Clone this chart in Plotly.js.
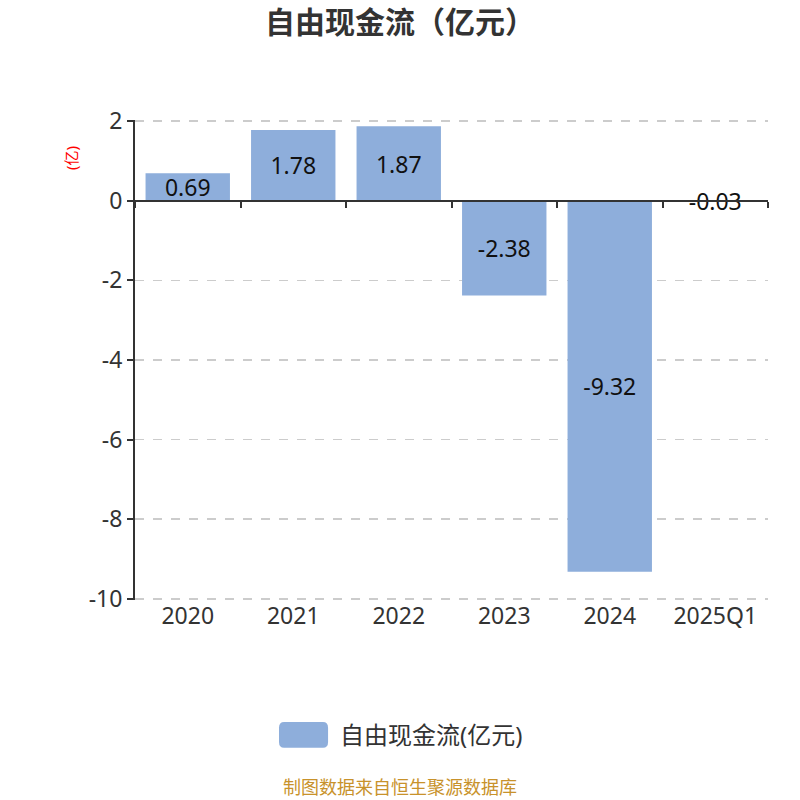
<!DOCTYPE html>
<html>
<head>
<meta charset="utf-8">
<script src="https://cdn.plot.ly/plotly-3.0.1.min.js"></script>
<style>
  html, body { margin: 0; padding: 0; background: #fff; }
  #chart { width: 800px; height: 800px; }
</style>
</head>
<body>
<div id="chart"></div>
<script>
const years = ['2020', '2021', '2022', '2023', '2024', '2025Q1'];
const fcf = [0.69, 1.78, 1.87, -2.38, -9.32, -0.03];
const fcfLabels = ['0.69', '1.78', '1.87', '-2.38', '-9.32', '-0.03'];
const yTicks = [-10, -8, -6, -4, -2, 0, 2];
const seriesName = '自由现金流(亿元)';

const FONT = 'Noto Sans, "Noto Sans CJK SC", sans-serif';
const yMin = -10.03, yMax = 2.03;

const bars = {
    x: years,
    y: fcf,
    type: 'bar',
    name: seriesName,
    marker: { color: '#8eaedb' },
    width: 0.8,
    text: fcfLabels,
    textposition: 'inside',
    insidetextanchor: 'middle',
    constraintext: 'none',
    textfont: { size: 23, color: '#111', family: FONT },
    showlegend: false,
    hoverinfo: 'x+y'
}

// invisible copy that only carries the zero axis with the boundary ticks
const zeroAxis = {
    x: years,
    y: years.map(() => 0),
    type: 'bar',
    xaxis: 'x2',
    marker: { color: 'rgba(0,0,0,0)' },
    showlegend: false,
    hoverinfo: 'skip'
}

// legend swatch: rounded rectangle in paper coords
const sw = { x0: 0.2275, x1: 0.305, y0: -0.308, y1: -0.254, r: 0.008, ry: 0.012 };
const swatchPath =
    `M ${sw.x0 + sw.r},${sw.y1} L ${sw.x1 - sw.r},${sw.y1} Q ${sw.x1},${sw.y1} ${sw.x1},${sw.y1 - sw.ry} ` +
    `L ${sw.x1},${sw.y0 + sw.ry} Q ${sw.x1},${sw.y0} ${sw.x1 - sw.r},${sw.y0} ` +
    `L ${sw.x0 + sw.r},${sw.y0} Q ${sw.x0},${sw.y0} ${sw.x0},${sw.y0 + sw.ry} ` +
    `L ${sw.x0},${sw.y1 - sw.ry} Q ${sw.x0},${sw.y1} ${sw.x0 + sw.r},${sw.y1} Z`;

const layout = {
    width: 800,
    height: 800,
    margin: { l: 135, r: 32, t: 120, b: 200 },
    paper_bgcolor: '#fff',
    plot_bgcolor: '#fff',
    font: { family: FONT, color: '#333' },
    title: {
        text: '<b>自由现金流（亿元）</b>',
        font: { size: 30, color: '#333', family: FONT },
        x: 0.5, xanchor: 'center',
        yref: 'container', y: 0.972, yanchor: 'middle'
    },
    xaxis: {
        type: 'category',
        showline: false,
        ticks: '',
        showgrid: false,
        zeroline: false,
        tickfont: { size: 23, color: '#333' },
        range: [-0.5, 5.5]
    },
    xaxis2: {
        type: 'category',
        overlaying: 'x',
        anchor: 'free',
        position: -yMin / (yMax - yMin),
        side: 'bottom',
        range: [-0.5, 5.5],
        showline: true,
        linecolor: '#333',
        linewidth: 2,
        ticks: 'outside',
        tickson: 'boundaries',
        ticklen: 6,
        tickwidth: 2,
        tickcolor: '#333',
        showticklabels: false,
        showgrid: false,
        zeroline: false
    },
    yaxis: {
        range: [yMin, yMax],
        tickvals: yTicks,
        ticktext: yTicks.map(String),
        showline: true,
        linecolor: '#333',
        linewidth: 2,
        ticks: 'outside',
        ticklen: 6,
        tickwidth: 2,
        tickcolor: '#333',
        tickfont: { size: 23, color: '#333' },
        showgrid: true,
        gridcolor: '#cccccc',
        gridwidth: 1.5,
        griddash: 'dash',
        zeroline: false
    },
    showlegend: false,
    shapes: [
        {
            type: 'path',
            path: swatchPath,
            xref: 'paper', yref: 'paper',
            fillcolor: '#8eaedb',
            line: { width: 0 }
        }
    ],
    annotations: [
        {
            text: seriesName,
            xref: 'paper', yref: 'paper',
            x: 0.321, y: -0.281,
            xanchor: 'left', yanchor: 'middle',
            showarrow: false,
            font: { size: 24, color: '#333' }
        },
        {
            text: '(亿)',
            xref: 'paper', yref: 'paper',
            x: -0.12, y: 0.95,
            textangle: -90,
            showarrow: false,
            font: { size: 15, color: '#ff0000' }
        },
        {
            text: '制图数据来自恒生聚源数据库',
            xref: 'paper', yref: 'paper',
            x: 0.419, y: -0.39,
            xanchor: 'center', yanchor: 'middle',
            showarrow: false,
            font: { size: 18, color: '#c8922b' }
        }
    ]
}

Plotly.newPlot('chart', [bars, zeroAxis], layout, { displayModeBar: false, staticPlot: true });
</script>
</body>
</html>
